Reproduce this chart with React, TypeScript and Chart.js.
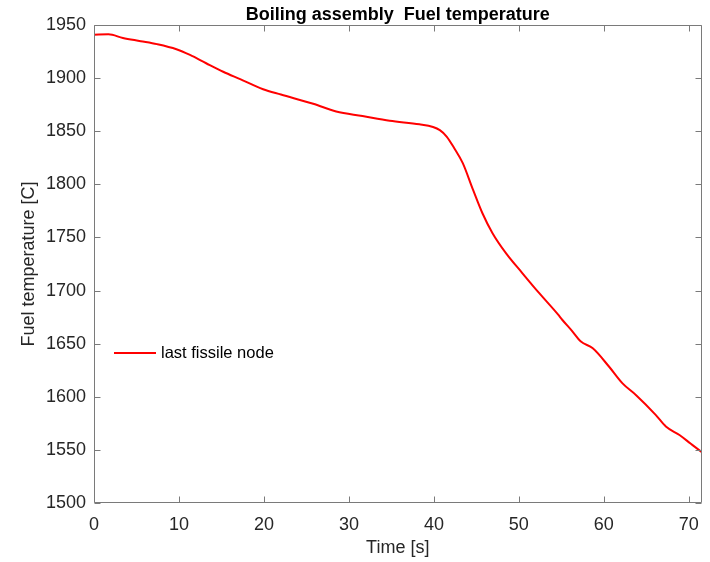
import React, { useEffect, useRef } from "react";
import { Chart, registerables } from "chart.js";

Chart.register(...registerables);

const TITLE = "Boiling assembly  Fuel temperature";
const X_LABEL = "Time [s]";
const Y_LABEL = "Fuel temperature [C]";
const SERIES_LABEL = "last fissile node";

const timeS: number[] = [
  0, 1.7, 3.4, 5.5, 7.4, 9.7, 11.3, 13.2, 15.2, 17.2, 19.9, 22.0, 25.8, 28.5,
  31.6, 34.8, 38.3, 39.9, 40.7, 41.5, 42.4, 43.4, 44.6, 45.7, 46.9, 48.5, 50.4,
  52.4, 54.6, 55.1, 56.2, 57.3, 58.7, 60.6, 62.2, 63.8, 66.1, 67.3, 68.9, 70.2,
  71.5,
];
const fuelTemp: number[] = [
  1940.8, 1941.2, 1937.8, 1934.8, 1932.0, 1927.2, 1921.8, 1914.0, 1906.0,
  1899.0, 1889.5, 1884.5, 1875.8, 1868.6, 1864.3, 1859.8, 1856.5, 1854.0,
  1851.0, 1845.0, 1834.0, 1820.0, 1795.0, 1773.0, 1754.0, 1735.0, 1716.5,
  1697.5, 1677.5, 1672.5, 1662.5, 1652.0, 1645.6, 1628.5, 1612.6, 1601.5,
  1583.0, 1572.0, 1564.0, 1556.0, 1548.0,
];

const X_MIN = 0;
const X_MAX = 71.5;
const X_STEP = 10;
const Y_MIN = 1500;
const Y_MAX = 1950;
const Y_STEP = 50;

const FONT = "'Liberation Sans', Arial, Helvetica, sans-serif";
const AXIS_COLOR = "#262626";
const BOX_COLOR = "#7a7a7a";

const boxPlugin = {
  id: "matlabBox",
  afterDatasetsDraw(chart: any) {
    const { ctx, chartArea } = chart;
    const { left, right, top, bottom } = chartArea;
    const L = Math.round(left) + 0.5;
    const R = Math.round(right) - 0.5;
    const T = Math.round(top) + 0.5;
    const B = Math.round(bottom) - 0.5;
    const tl = 6;
    ctx.save();
    ctx.strokeStyle = BOX_COLOR;
    ctx.lineWidth = 1;
    ctx.beginPath();
    ctx.rect(L, T, R - L, B - T);
    const xs = chart.scales.x;
    xs.ticks.forEach((t: any) => {
      const p = Math.round(xs.getPixelForValue(t.value)) + 0.5;
      ctx.moveTo(p, B);
      ctx.lineTo(p, B - tl);
      ctx.moveTo(p, T);
      ctx.lineTo(p, T + tl);
    });
    const ys = chart.scales.y;
    ys.ticks.forEach((t: any) => {
      const p = Math.round(ys.getPixelForValue(t.value)) + 0.5;
      ctx.moveTo(L, p);
      ctx.lineTo(L + tl, p);
      ctx.moveTo(R, p);
      ctx.lineTo(R - tl, p);
    });
    ctx.stroke();

    // legend inside plot area
    const ds = chart.data.datasets[0];
    const lx = left + 20;
    const ly = top + 328;
    ctx.strokeStyle = ds.borderColor;
    ctx.lineWidth = 2;
    ctx.beginPath();
    ctx.moveTo(lx, ly);
    ctx.lineTo(lx + 42, ly);
    ctx.stroke();
    ctx.fillStyle = "#000";
    ctx.font = `16.5px ${FONT}`;
    ctx.textAlign = "left";
    ctx.textBaseline = "middle";
    ctx.fillText(ds.label, lx + 47, ly);
    ctx.restore();
  },
};

export default function App() {
  const ref = useRef<HTMLCanvasElement | null>(null);
  useEffect(() => {
    if (!ref.current) return;
    const chart = new Chart(ref.current, {
      type: "line",
      data: {
        datasets: [
          {
            label: SERIES_LABEL,
            data: timeS.map((t, i) => ({ x: t, y: fuelTemp[i] })),
            borderColor: "#ff0000",
            backgroundColor: "#ff0000",
            borderWidth: 2,
            pointRadius: 0,
            cubicInterpolationMode: "monotone",
            fill: false,
          },
        ],
      },
      options: {
        responsive: false,
        animation: false,
        layout: { padding: { left: 0, right: 7, top: 0, bottom: 0 } },
        plugins: {
          legend: { display: false },
          tooltip: { enabled: false },
          title: {
            display: true,
            text: TITLE,
            color: "#000",
            fullSize: false,
            font: { family: FONT, size: 18, weight: "bold", lineHeight: 1.2 },
            padding: { top: 4.7, bottom: -1.3 },
          },
        },
        scales: {
          x: {
            type: "linear",
            min: X_MIN,
            max: X_MAX,
            grid: { display: false, drawTicks: false },
            border: { display: false },
            ticks: {
              stepSize: X_STEP,
              includeBounds: false,
              autoSkip: false,
              maxRotation: 0,
              color: AXIS_COLOR,
              padding: 11,
              format: { useGrouping: false },
              font: { family: FONT, size: 18 },
            },
            title: {
              display: true,
              text: X_LABEL,
              color: AXIS_COLOR,
              font: { family: FONT, size: 18, lineHeight: 1.2 },
              padding: { top: 0, bottom: 3.5 },
            },
            afterFit: (s: any) => {
              s.height = 59;
            },
          },
          y: {
            type: "linear",
            min: Y_MIN,
            max: Y_MAX,
            grid: { display: false, drawTicks: false },
            border: { display: false },
            ticks: {
              stepSize: Y_STEP,
              includeBounds: false,
              autoSkip: false,
              color: AXIS_COLOR,
              padding: 8,
              format: { useGrouping: false },
              font: { family: FONT, size: 18 },
            },
            title: {
              display: true,
              text: Y_LABEL,
              color: AXIS_COLOR,
              font: { family: FONT, size: 18, lineHeight: 1.2 },
              padding: { top: 18.2, bottom: 0 },
            },
            afterFit: (s: any) => {
              s.width = 94;
            },
          },
        },
      },
      plugins: [boxPlugin],
    });
    return () => chart.destroy();
  }, []);
  return (
    <div style={{ position: "absolute", left: 0, top: 0, width: 710, height: 562, background: "#fff" }}>
      <canvas ref={ref} width={710} height={562} style={{ display: "block" }} />
    </div>
  );
}
